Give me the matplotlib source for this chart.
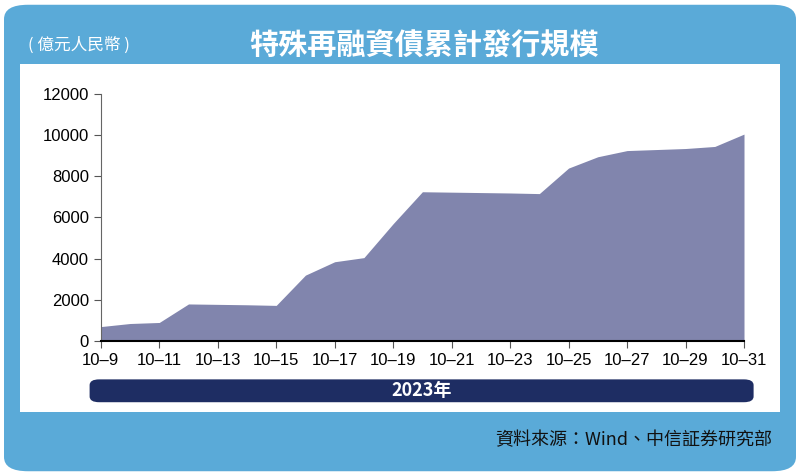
import matplotlib.pyplot as plt
from matplotlib.patches import FancyBboxPatch, Rectangle

plt.rcParams['font.family'] = ['Noto Sans CJK TC', 'DejaVu Sans']

# 數據（億元人民幣）
dates = [f"10-{d}" for d in range(9, 32)]
values = [700, 850, 900, 1800, 1780, 1760, 1730, 3200, 3850, 4050, 5700, 7250,
          7230, 7210, 7190, 7160, 8400, 8950, 9250, 9300, 9350, 9450, 10050]
tick_labels = [d.replace("-", "–") for d in dates[::2]]

fig = plt.figure(figsize=(8, 4.76), dpi=100)
fig.patch.set_facecolor("white")

# 背景框
fig.patches.append(FancyBboxPatch((0.005, 0.01), 0.99, 0.98, boxstyle="round,pad=0,rounding_size=0.03",
                                  transform=fig.transFigure, facecolor="#5aaad8", edgecolor="none", zorder=-3))
fig.patches.append(Rectangle((0.025, 0.135), 0.95, 0.73, transform=fig.transFigure,
                             facecolor="white", edgecolor="none", zorder=-2))
fig.patches.append(FancyBboxPatch((0.112, 0.155), 0.83, 0.048, boxstyle="round,pad=0,rounding_size=0.012",
                                  transform=fig.transFigure, facecolor="#1e2d63", edgecolor="none", zorder=-1))

fig.text(0.53, 0.905, "特殊再融資債累計發行規模", ha="center", va="center",
         fontsize=21, fontweight="bold", color="white")
fig.text(0.035, 0.905, "( 億元人民幣 )", ha="left", va="center", fontsize=12, color="white")
fig.text(0.527, 0.179, "2023年", ha="center", va="center", fontsize=13, fontweight="bold", color="white")
fig.text(0.965, 0.075, "資料來源：Wind、中信証券研究部", ha="right", va="center", fontsize=13, color="#111111")

ax = fig.add_axes([0.126, 0.2836, 0.804, 0.519])
x = list(range(len(dates)))
ax.fill_between(x, values, color="#8185ad", linewidth=0)
ax.set_xlim(0, len(dates) - 1)
ax.set_ylim(0, 12000)
ax.set_yticks(range(0, 12001, 2000))
ax.set_xticks(x[::2])
ax.set_xticklabels(tick_labels)
ax.tick_params(labelsize=12, color="#555555", length=5)
for lbl in ax.get_xticklabels() + ax.get_yticklabels():
    lbl.set_family(["Liberation Sans", "DejaVu Sans"])
for s in ["top", "right"]:
    ax.spines[s].set_visible(False)
ax.spines["bottom"].set_linewidth(1.5)
ax.spines["left"].set_color("#666666")
ax.patch.set_alpha(0)

fig.savefig("out.png", dpi=100)
